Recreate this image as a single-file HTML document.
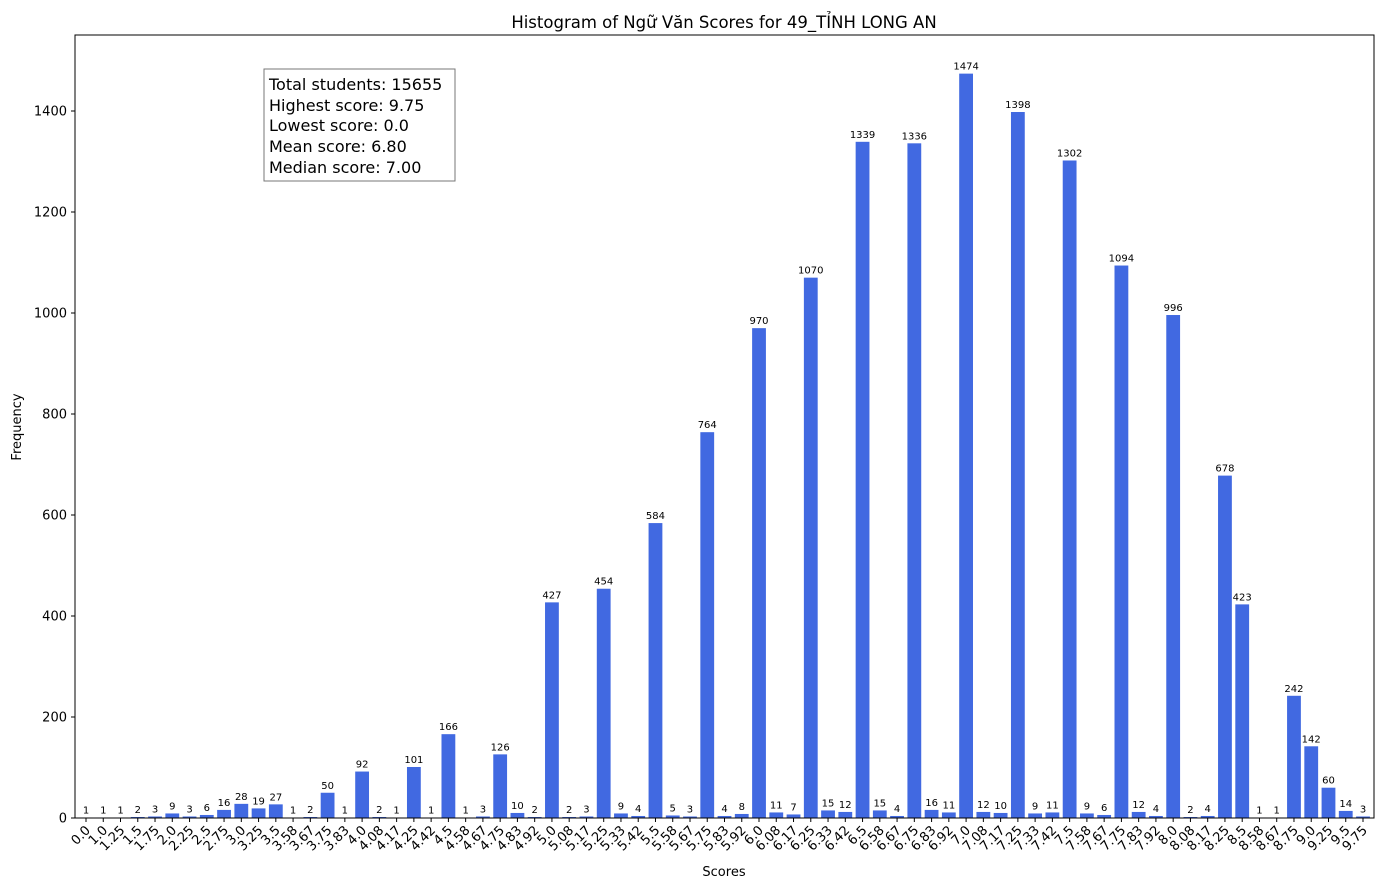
<!DOCTYPE html>
<html><head><meta charset="utf-8">
<style>
body{margin:0;background:#fff;}
svg text{font-family:"DejaVu Sans","Liberation Sans",sans-serif;}
</style></head>
<body>
<svg id="chart" width="1388" height="889" xmlns="http://www.w3.org/2000/svg">
<rect width="1388" height="889" fill="#fff"/>
<text x="724" y="28" font-size="16.5" text-anchor="middle">Histogram of Ngữ Văn Scores for 49_TỈNH LONG AN</text>
<g id="bars"></g>
<g id="axes"></g>
<rect x="75" y="35" width="1299" height="783" fill="none" stroke="#000" stroke-width="1"/>
<text x="724" y="876" font-size="13" text-anchor="middle">Scores</text>
<text transform="translate(21,427) rotate(-90)" font-size="13" text-anchor="middle">Frequency</text>
<g>
<rect x="264" y="69" width="191" height="112" fill="#fff" stroke="#777" stroke-width="1"/>
<text x="269" y="90" font-size="16">Total students: 15655</text>
<text x="269" y="111" font-size="16">Highest score: 9.75</text>
<text x="269" y="131" font-size="16">Lowest score: 0.0</text>
<text x="269" y="152" font-size="16">Mean score: 6.80</text>
<text x="269" y="173" font-size="16">Median score: 7.00</text>
</g>
</svg>
<script>
const categories=["0.0","1.0","1.25","1.5","1.75","2.0","2.25","2.5","2.75","3.0","3.25","3.5","3.58","3.67","3.75","3.83","4.0","4.08","4.17","4.25","4.42","4.5","4.58","4.67","4.75","4.83","4.92","5.0","5.08","5.17","5.25","5.33","5.42","5.5","5.58","5.67","5.75","5.83","5.92","6.0","6.08","6.17","6.25","6.33","6.42","6.5","6.58","6.67","6.75","6.83","6.92","7.0","7.08","7.17","7.25","7.33","7.42","7.5","7.58","7.67","7.75","7.83","7.92","8.0","8.08","8.17","8.25","8.5","8.58","8.67","8.75","9.0","9.25","9.5","9.75"];
const counts=[1,1,1,2,3,9,3,6,16,28,19,27,1,2,50,1,92,2,1,101,1,166,1,3,126,10,2,427,2,3,454,9,4,584,5,3,764,4,8,970,11,7,1070,15,12,1339,15,4,1336,16,11,1474,12,10,1398,9,11,1302,9,6,1094,12,4,996,2,4,678,423,1,1,242,142,60,14,3];
const yTicks=[0,200,400,600,800,1000,1200,1400];
const NS="http://www.w3.org/2000/svg";
const x0=86,x1=1363,yBase=818,yTop=111;
function xs(i){return x0+i*(x1-x0)/(categories.length-1);}
function ys(v){return yBase-v*(yBase-yTop)/1400;}
const bw=(x1-x0)/(categories.length-1)*0.8;
const bars=document.getElementById('bars'),axes=document.getElementById('axes');
function mk(t,a,p){const e=document.createElementNS(NS,t);for(const k in a)e.setAttribute(k,a[k]);p.appendChild(e);return e;}
counts.forEach((v,i)=>{
 const r=mk('rect',{x:xs(i)-bw/2,y:ys(v),width:bw,height:yBase-ys(v),fill:'#4169e1'},bars);
 
 
 const t=mk('text',{x:xs(i),y:ys(v)-4,'font-size':'10','text-anchor':'middle'},bars);
 t.textContent=v;
 
 
 mk('line',{x1:xs(i),x2:xs(i),y1:yBase,y2:yBase+4,stroke:'#000'},axes);
 const l=mk('text',{transform:`translate(${xs(i)+5},${yBase+13}) rotate(-45)`,'font-size':'13','text-anchor':'end'},axes);
 l.textContent=categories[i];
 
 
});
yTicks.forEach(v=>{
 mk('line',{x1:71,x2:75,y1:ys(v),y2:ys(v),stroke:'#000'},axes);
 const t=mk('text',{x:67,y:ys(v)+4.5,'font-size':'13','text-anchor':'end'},axes);
 t.textContent=v;
 
 
});
</script>
</body></html>
